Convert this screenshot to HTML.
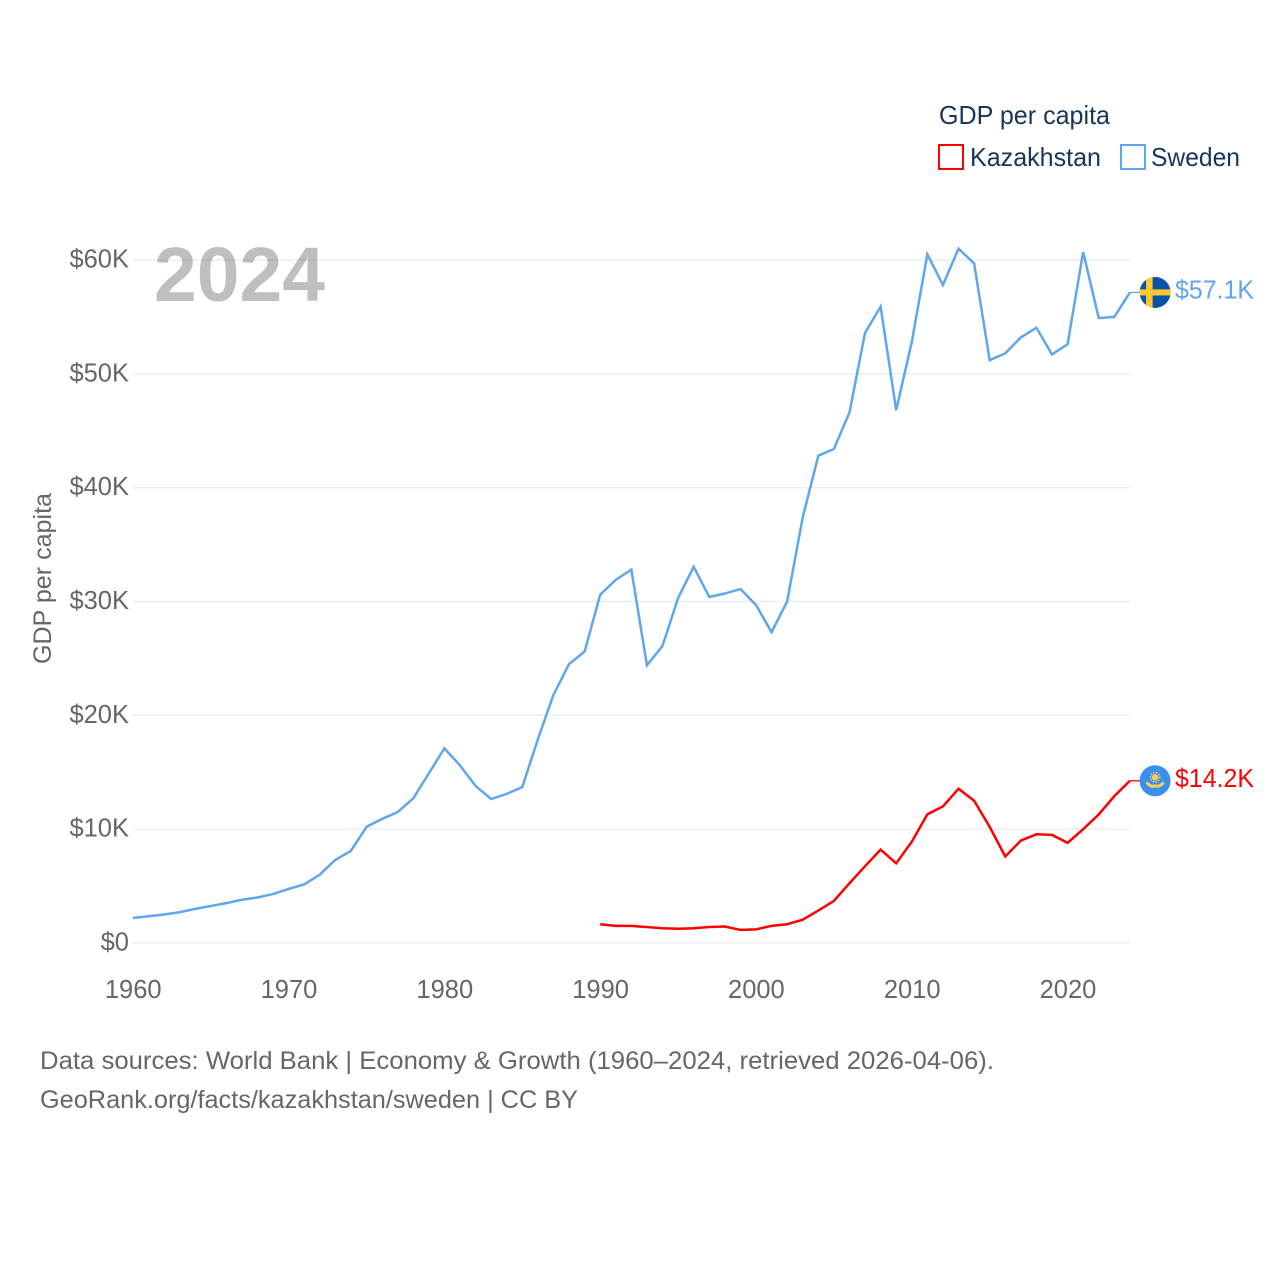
<!DOCTYPE html>
<html lang="en">
<head>
<meta charset="utf-8">
<title>GDP per capita: Kazakhstan and Sweden</title>
<style>
html,body{margin:0;padding:0;background:#fff;width:1280px;height:1280px;overflow:hidden}
svg{display:block}
text{font-family:"Liberation Sans",Arial,sans-serif}
</style>
</head>
<body>
<svg id="chart" xmlns="http://www.w3.org/2000/svg" width="1280" height="1280" viewBox="0 0 1280 1280">
  <rect x="0" y="0" width="1280" height="1280" fill="#ffffff"/>
  <text x="154" y="301" font-size="77" font-weight="700" fill="#bfbfbf" textLength="171" lengthAdjust="spacingAndGlyphs">2024</text>
  <g id="grid"></g>
  <g id="y-ticks"></g>
  <g id="x-ticks"></g>
  <text transform="translate(51,664) rotate(-90)" font-size="25" fill="#666666" textLength="171" lengthAdjust="spacingAndGlyphs">GDP per capita</text>
  <g id="series"></g>

  <g>
    <text x="939" y="124" font-size="26" fill="#18365c" textLength="171" lengthAdjust="spacingAndGlyphs">GDP per capita</text>
    <rect x="939" y="145" width="24" height="24" fill="none" stroke="#ff0000" stroke-width="2"/>
    <text x="970" y="166" font-size="26" fill="#18365c" textLength="131" lengthAdjust="spacingAndGlyphs">Kazakhstan</text>
    <rect x="1121" y="145" width="24" height="24" fill="none" stroke="#5fa6ee" stroke-width="2"/>
    <text x="1151" y="166" font-size="26" fill="#18365c" textLength="89" lengthAdjust="spacingAndGlyphs">Sweden</text>
  </g>

  <g id="end-markers"></g>

  <g>
    <text x="40" y="1069" font-size="25" fill="#666666" textLength="954" lengthAdjust="spacingAndGlyphs">Data sources: World Bank | Economy &amp; Growth (1960–2024, retrieved 2026-04-06).</text>
    <text x="40" y="1108" font-size="25" fill="#666666" textLength="538" lengthAdjust="spacingAndGlyphs">GeoRank.org/facts/kazakhstan/sweden | CC BY</text>
  </g>
</svg>
<script>
var yTickValues = [0, 10, 20, 30, 40, 50, 60];
var yTickLabels = ["$0", "$10K", "$20K", "$30K", "$40K", "$50K", "$60K"];
var xTickYears = [1960, 1970, 1980, 1990, 2000, 2010, 2020];
var xTickLabels = ["1960", "1970", "1980", "1990", "2000", "2010", "2020"];
var swedenStartYear = 1960;
var swedenValues = [2.2, 2.35, 2.5, 2.7, 3.0, 3.25, 3.5, 3.8, 4.0, 4.3,
  4.75, 5.15, 6.0, 7.3, 8.1, 10.2, 10.9, 11.5, 12.7, 14.9,
  17.1, 15.6, 13.8, 12.65, 13.1, 13.7, 17.9, 21.8, 24.5, 25.6,
  30.6, 31.9, 32.8, 24.4, 26.1, 30.3, 33.05, 30.4, 30.7, 31.1,
  29.7, 27.3, 30.0, 37.4, 42.8, 43.4, 46.6, 53.6, 55.9, 46.8,
  52.8, 60.5, 57.8, 61.0, 59.7, 51.2, 51.8, 53.2, 54.05, 51.7,
  52.6, 60.7, 54.9, 55.0, 57.15];
var kazakhstanStartYear = 1990;
var kazakhstanValues = [1.65, 1.5, 1.5, 1.4, 1.3, 1.25, 1.3, 1.4, 1.45, 1.15,
  1.2, 1.5, 1.65, 2.05, 2.85, 3.7, 5.25, 6.75, 8.2, 7.0,
  8.9, 11.3, 12.0, 13.55, 12.5, 10.2, 7.6, 9.0, 9.55, 9.5,
  8.8, 10.0, 11.3, 12.9, 14.25];
var swedenEndLabel = "$57.1K";
var kazakhstanEndLabel = "$14.2K";

var NS = "http://www.w3.org/2000/svg";
function xScale(year) { return 132.8 + (year - 1960) * (1129.9 - 132.8) / 64; }
function yScale(v) { return 943 - v * (943 - 260) / 60; }
function make(tag, attrs, parent) {
  var el = document.createElementNS(NS, tag);
  for (var k in attrs) el.setAttribute(k, attrs[k]);
  parent.appendChild(el);
  return el;
}

var grid = document.getElementById("grid");
var yTicks = document.getElementById("y-ticks");
yTickValues.forEach(function (v, i) {
  var line = make("line", {x1: 133, x2: 1130, y1: yScale(v), y2: yScale(v), stroke: "#000", "stroke-opacity": 0.075, "stroke-width": 1.4}, grid);
  
  
  var t = make("text", {x: 129, y: yScale(v) + 7.5, "text-anchor": "end", "font-size": 25.5, fill: "#666666"}, yTicks);
  
  
  t.textContent = yTickLabels[i];
});

var xTicks = document.getElementById("x-ticks");
xTickYears.forEach(function (year, i) {
  var t = make("text", {x: xScale(year) + 0.4, y: 998, "text-anchor": "middle", "font-size": 25.5, fill: "#666666"}, xTicks);
  
  
  t.textContent = xTickLabels[i];
});

function pointsFor(values, startYear) {
  return values.map(function (v, i) {
    return xScale(startYear + i).toFixed(2) + "," + yScale(v).toFixed(2);
  }).join(" ");
}

var series = document.getElementById("series");
var swedenLine = make("polyline", {points: pointsFor(swedenValues, swedenStartYear), fill: "none", stroke: "#5fa6ee", "stroke-width": 2.5, "stroke-linejoin": "miter"}, series);


var kazakhstanLine = make("polyline", {points: pointsFor(kazakhstanValues, kazakhstanStartYear), fill: "none", stroke: "#ff0000", "stroke-width": 2.5, "stroke-linejoin": "miter"}, series);



var markers = document.getElementById("end-markers");
var endX = xScale(2024);
var flagX = endX + 25.2;
var swY = yScale(swedenValues[swedenValues.length - 1]);
var kzY = yScale(kazakhstanValues[kazakhstanValues.length - 1]);

var swConn = make("line", {x1: endX, x2: flagX - 15, y1: swY, y2: swY, stroke: "#5fa6ee", "stroke-width": 1.3}, markers);


var kzConn = make("line", {x1: endX, x2: flagX - 15, y1: kzY, y2: kzY, stroke: "#ff0000", "stroke-width": 1.3}, markers);



var clipDefs = make("defs", {}, markers);
var clip = make("clipPath", {id: "sw-clip"}, clipDefs);
make("circle", {cx: flagX, cy: swY, r: 15.5}, clip);

var swFlag = make("g", {"clip-path": "url(#sw-clip)"}, markers);


make("rect", {x: flagX - 16, y: swY - 16, width: 32, height: 32, fill: "#0b52a8"}, swFlag);
make("rect", {x: flagX - 9, y: swY - 16, width: 6.5, height: 32, fill: "#fecb2e"}, swFlag);
make("rect", {x: flagX - 16, y: swY - 3, width: 32, height: 6, fill: "#fecb2e"}, swFlag);

var kzFlag = make("g", {}, markers);


make("circle", {cx: flagX, cy: kzY, r: 15.5, fill: "#3a8ff0"}, kzFlag);
make("circle", {cx: flagX, cy: kzY - 3.5, r: 3.2, fill: "#fbd04a"}, kzFlag);
make("circle", {cx: flagX, cy: kzY - 3.5, r: 4.6, fill: "none", stroke: "#fbd04a", "stroke-width": 1.6, "stroke-dasharray": "1.4 1.4"}, kzFlag);
make("path", {d: "M" + (flagX - 8.5) + " " + (kzY + 1.5) + " Q" + (flagX - 4) + " " + (kzY + 7) + " " + flagX + " " + (kzY + 5) + " Q" + (flagX + 4) + " " + (kzY + 7) + " " + (flagX + 8.5) + " " + (kzY + 1.5), fill: "none", stroke: "#fbd04a", "stroke-width": 3}, kzFlag);

var swLabel = make("text", {x: 1175, y: swY + 6, "font-size": 25.5, fill: "#5fa6ee", textLength: 79, lengthAdjust: "spacingAndGlyphs"}, markers);


swLabel.textContent = swedenEndLabel;
var kzLabel = make("text", {x: 1175, y: kzY + 6, "font-size": 25.5, fill: "#ff0000", textLength: 79, lengthAdjust: "spacingAndGlyphs"}, markers);


kzLabel.textContent = kazakhstanEndLabel;
</script>
</body>
</html>
